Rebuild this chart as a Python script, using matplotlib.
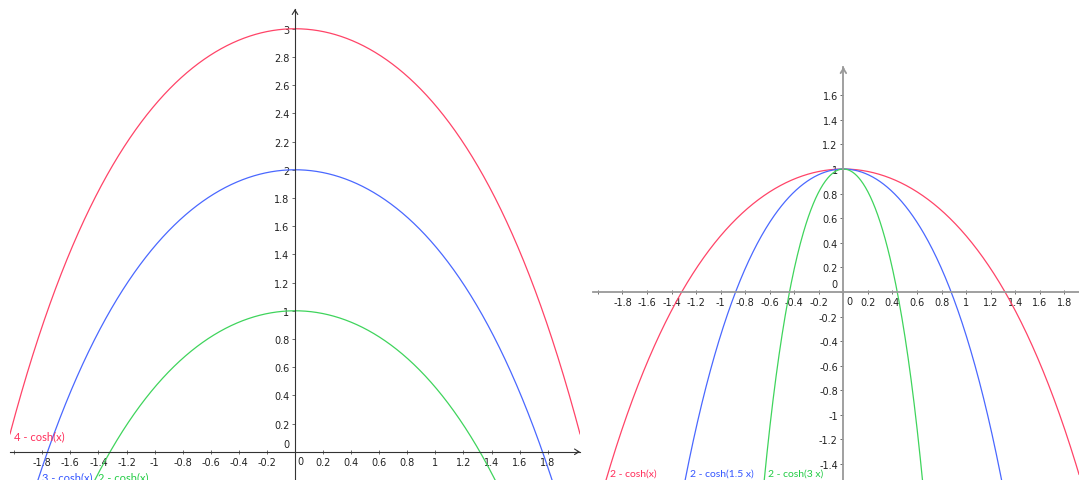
import numpy as np
import matplotlib.pyplot as plt
from matplotlib.ticker import FixedLocator, FuncFormatter

# left panel: k - cosh(x), right panel: 2 - cosh(a x)
left_offsets = [4, 3, 2]
left_labels = ['4 - cosh(x)', '3 - cosh(x)', '2 - cosh(x)']
right_scales = [1, 1.5, 3]
right_labels = ['2 - cosh(x)', '2 - cosh(1.5 x)', '2 - cosh(3 x)']
colors = ['#ff4468', '#4a68ff', '#3fd45c']
label_colors = ['#ff2d5a', '#3355ff', '#22cc44']

left_xticks = [-2.0, -1.8, -1.6, -1.4, -1.2, -1.0, -0.8, -0.6, -0.4, -0.2, 0.0,
               0.2, 0.4, 0.6, 0.8, 1.0, 1.2, 1.4, 1.6, 1.8]
left_yticks = [0.0, 0.2, 0.4, 0.6, 0.8, 1.0, 1.2, 1.4, 1.6, 1.8, 2.0, 2.2, 2.4,
               2.6, 2.8, 3.0]
right_xticks = left_xticks
right_yticks = [-1.4, -1.2, -1.0, -0.8, -0.6, -0.4, -0.2, 0.0, 0.2, 0.4, 0.6,
                0.8, 1.0, 1.2, 1.4, 1.6]

W, H = 1079, 481
fig = plt.figure(figsize=(W / 100, H / 100), dpi=100)
fig.patch.set_facecolor('white')

left_font = dict(family=['Lato', 'DejaVu Sans'], fontsize=8)
right_font = dict(family=['Lato', 'DejaVu Sans'], fontsize=7.5)


def fmt_x(v, pos):
    # 0 is drawn by hand, -2 has a tick but no label
    if abs(v) < 1e-9 or abs(v + 2.0) < 1e-9:
        return ''
    return f'{v:g}'


def fmt_y(v, pos):
    if abs(v) < 1e-9:
        return ''
    return f'{v:g}'


def setup(ax, xlim, ylim, xticks, yticks, axcol, axlw):
    ax.set_xlim(*xlim)
    ax.set_ylim(*ylim)
    ax.set_facecolor('none')
    for s in ['top', 'right']:
        ax.spines[s].set_visible(False)
    ax.spines['left'].set_position(('data', 0))
    ax.spines['bottom'].set_position(('data', 0))
    for s in ['left', 'bottom']:
        ax.spines[s].set_color(axcol)
        ax.spines[s].set_linewidth(axlw)
    ax.xaxis.set_major_locator(FixedLocator(xticks))
    ax.yaxis.set_major_locator(FixedLocator(yticks))
    ax.xaxis.set_major_formatter(FuncFormatter(fmt_x))
    ax.yaxis.set_major_formatter(FuncFormatter(fmt_y))
    ax.tick_params(axis='x', direction='inout', length=3, width=0.6,
                   colors='#555555', labelcolor='#222222', labelsize=7, pad=2)
    ax.tick_params(axis='y', direction='out', length=2, width=0.6,
                   colors='#555555', labelcolor='#222222', labelsize=7, pad=2)
    # zero labels, GeoGebra style
    ax.annotate('0', xy=(0, 0), xytext=(-4, 2), textcoords='offset points',
                ha='right', va='bottom', fontsize=7, color='#222222')
    ax.annotate('0', xy=(0, 0), xytext=(2, -3), textcoords='offset points',
                ha='left', va='top', fontsize=7, color='#222222')
    # y axis arrow head
    ax.annotate('', xy=(0, ylim[1]), xytext=(0, ylim[1] - 0.02),
                arrowprops=dict(arrowstyle='->,head_length=0.4,head_width=0.25',
                                color=axcol, lw=axlw, mutation_scale=8,
                                shrinkA=0, shrinkB=0),
                annotation_clip=False)


# left panel
lx = (-2.03, 2.03)
ly = (-0.2, 3.14)
ax1 = fig.add_axes([10 / W, 0, 570 / W, 471 / H])
setup(ax1, lx, ly, left_xticks, left_yticks, '#333333', 0.8)
ax1.annotate('', xy=(lx[1], 0), xytext=(lx[1] - 0.02, 0),
             arrowprops=dict(arrowstyle='->,head_length=0.4,head_width=0.25',
                             color='#333333', lw=0.8, mutation_scale=8,
                             shrinkA=0, shrinkB=0),
             annotation_clip=False)
x = np.linspace(lx[0], lx[1], 800)
for k, c in zip(left_offsets, colors):
    ax1.plot(x, k - np.cosh(x), color=c, lw=0.9, clip_on=True)
ax1.text(-2.0, 0.11, left_labels[0], color=label_colors[0], ha='left',
         va='center', **left_font)
ax1.text(-1.8, -0.175, left_labels[1], color=label_colors[1], ha='left',
         va='center', **left_font)
ax1.text(-1.4, -0.175, left_labels[2], color=label_colors[2], ha='left',
         va='center', **left_font)

# right panel
rx = (-2.04, 1.92)
ry = (-1.53, 1.83)
ax2 = fig.add_axes([593 / W, 0, 486 / W, 413 / H])
setup(ax2, rx, ry, right_xticks, right_yticks, '#999999', 1.3)
x = np.linspace(rx[0], rx[1], 800)
for a, c in zip(right_scales, colors):
    ax2.plot(x, 2 - np.cosh(a * x), color=c, lw=0.9, clip_on=True)
label_x = [-1.9, -1.25, -0.61]
for lxv, lab, c in zip(label_x, right_labels, label_colors):
    ax2.text(lxv, -1.47, lab, color=c, ha='left', va='center', **right_font)

fig.savefig('out.png', dpi=100)
